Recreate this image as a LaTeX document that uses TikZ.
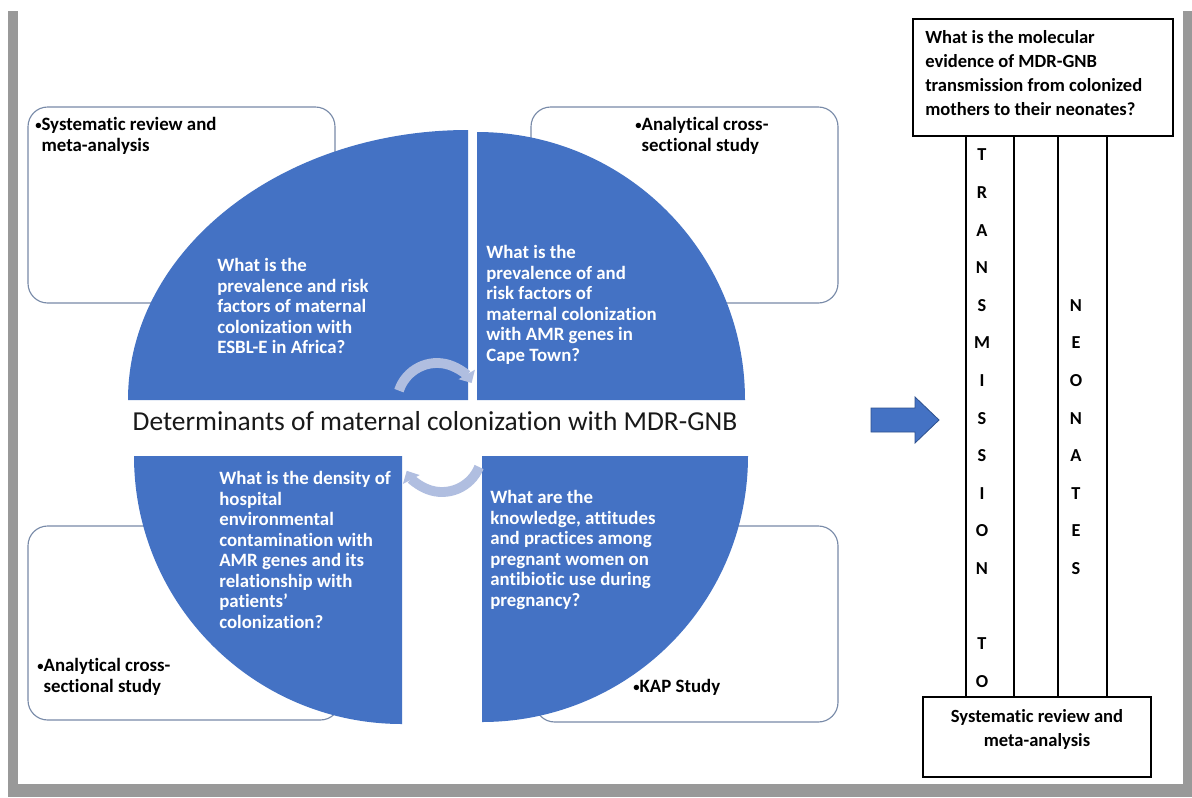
\documentclass[tikz,border=0pt]{standalone}
\usepackage{fontspec}
\setmainfont{Carlito}[Ligatures={NoCommon}]
\usetikzlibrary{arrows.meta,positioning}
\definecolor{qblue}{RGB}{68,114,196}
\definecolor{qedge}{RGB}{47,82,143}
\definecolor{boxline}{RGB}{120,138,168}
\definecolor{cyclearc}{RGB}{176,190,224}
% small list bullet and the matching hanging indent
\newcommand{\bul}{\raisebox{0.15ex}{\fontsize{9}{9}\selectfont•}}
\newcommand{\bulgap}{\phantom{\bul}}
\tikzset{
  % pie quarters of the cycle matrix
  quarter/.style={fill=qblue},
  % rounded boxes sitting behind the quarters
  methodbox/.style={draw=boxline, line width=0.8pt, rounded corners=14pt, fill=white},
  % question text on the quarters
  qtext/.style={text=white, font=\fontsize{13.4}{14.6}\selectfont\bfseries,
    align=left, inner sep=0pt, anchor=north west},
  % study design text in the rounded boxes
  methodtext/.style={text=black, font=\fontsize{13.4}{15}\selectfont\bfseries,
    align=left, inner sep=0pt, anchor=north west},
  % the two round arrows in the middle
  cyclearrow/.style={-{Triangle[length=7pt,width=13pt]}, line width=7pt, cyclearc},
  % boxes on the right
  plainbox/.style={draw=black, line width=1pt, fill=white},
  letter/.style={font=\fontsize{13}{14}\selectfont\bfseries, inner sep=0pt},
}

\begin{document}
\begin{tikzpicture}[x=0.025cm, y=-0.025cm]
  \useasboundingbox (0,0) rectangle (1192,797);
  % page with its shadow
  \fill[white] (0,0) rectangle (1192,797);
  \fill[gray!80] (8,11) rectangle (1192,797);
  \fill[white] (18,5) rectangle (1183,784);

  % rounded boxes (behind)
  \draw[methodbox] (28,107) rectangle (335,303);
  \draw[methodbox] (531,107) rectangle (838,303);
  \draw[methodbox] (28,526) rectangle (340,720);
  \draw[methodbox] (535,526) rectangle (838,722);

  % the four quarters
  \fill[quarter] (468,400) -- (128,400)
    arc[start angle=180, end angle=270, x radius=340, y radius=270] -- cycle;
  \fill[quarter] (477,400) -- (745,400)
    arc[start angle=0, end angle=-90, radius=268] -- cycle;
  \fill[quarter] (402,456) -- (134,456)
    arc[start angle=180, end angle=90, radius=268] -- cycle;
  \fill[quarter] (482,456) -- (748,456)
    arc[start angle=0, end angle=90, radius=266] -- cycle;

  % questions
  \node[qtext] (qesbl) at (217,258) {What is the\\prevalence and risk\\factors of maternal\\colonization with\\ESBL-E in Africa?};
  \node[qtext] (qamr) at (486,245) {What is the\\prevalence of and\\risk factors of\\maternal colonization\\with AMR genes in\\Cape Town?};
  \node[qtext] (qenv) at (219,471) {What is the density of\\hospital\\environmental\\contamination with\\AMR genes and its\\relationship with\\patients'\\colonization?};
  \node[qtext] (qkap) at (490,490) {What are the\\knowledge, attitudes\\and practices among\\pregnant women on\\antibiotic use during\\pregnancy?};

  % study designs
  \node[methodtext] (mreview) at (35,117) {\bul Systematic review and\\\bulgap meta-analysis};
  \node[methodtext] (mcross) at (635,117) {\bul Analytical cross-\\\bulgap sectional study};
  \node[methodtext] (mcrossb) at (37,658) {\bul Analytical cross-\\\bulgap sectional study};
  \node[methodtext] (mkap) at (633,679) {\bul KAP Study};

  % title across the middle
  \node[font=\fontsize{19.5}{22}\selectfont, text=black!90] (title) at (435,421)
    {Determinants of maternal colonization with MDR-GNB};

  % round arrows
  \coordinate (upcyc) at (437,403);
  \coordinate (lowcyc) at (442,452);
  \draw[cyclearrow] (upcyc) ++(198:40) arc[start angle=198, end angle=330, radius=40];
  \draw[cyclearrow] (lowcyc) ++(22:40) arc[start angle=22, end angle=152, radius=40];

  % block arrow to the right
  \filldraw[fill=qblue, draw=qedge, line width=0.6pt]
    (871,408) -- (915,408) -- (915,397) -- (939,420) -- (915,443)
    -- (915,432) -- (871,432) -- cycle;

  % letter columns
  \draw[plainbox] (966,136) rectangle (1014,697);
  \draw[plainbox] (1058,136) rectangle (1107,697);
  \foreach \ch [count=\k from 0] in {T,R,A,N,S,M,I,S,S,I,O,N,{},T,O}
    \node[letter] (tr\k) at (982,{155+37.6*\k}) {\ch};
  \foreach \ch [count=\k from 4] in {N,E,O,N,A,T,E,S}
    \node[letter] (ne\k) at (1076,{155+37.6*\k}) {\ch};

  % question and design boxes on the right
  \draw[plainbox] (913,19) rectangle (1173,136);
  \node[methodtext, font=\fontsize{13.2}{17.1}\selectfont\bfseries] (qtrans) at (925,30)
    {What is the molecular\\evidence of MDR-GNB\\transmission from colonized\\mothers to their neonates?};
  \draw[plainbox] (923,697) rectangle (1151,777);
  \node[methodtext, anchor=north, align=center, font=\fontsize{13.2}{17}\selectfont\bfseries]
    (mreviewb) at (1037,709) {Systematic review and\\meta-analysis};
\end{tikzpicture}
\end{document}
